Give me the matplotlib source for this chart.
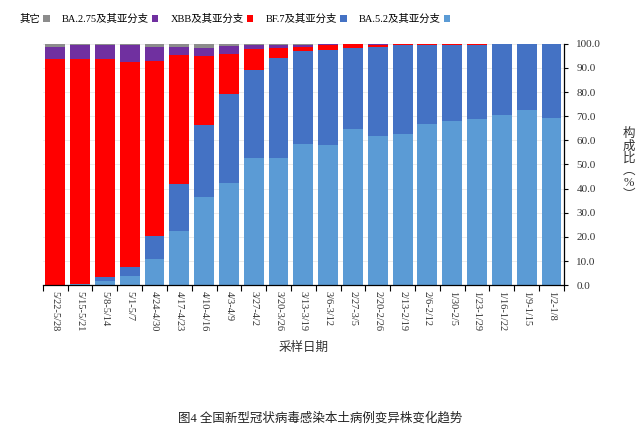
import numpy as np
import matplotlib.pyplot as plt

plt.rcParams['font.family'] = ['Liberation Serif', 'Noto Sans CJK SC', 'DejaVu Sans']

# weeks, shown newest first (the chart reads right to left)
weeks = [
    "5/22-5/28", "5/15-5/21", "5/8-5/14", "5/1-5/7", "4/24-4/30",
    "4/17-4/23", "4/10-4/16", "4/3-4/9", "3/27-4/2", "3/20-3/26",
    "3/13-3/19", "3/6-3/12", "2/27-3/5", "2/20-2/26", "2/13-2/19",
    "2/6-2/12", "1/30-2/5", "1/23-1/29", "1/16-1/22", "1/9-1/15", "1/2-1/8",
]

# composition ratio (%) per lineage
ba52 = [0.0, 0.3, 1.8, 3.7, 10.7, 22.4, 36.7, 42.5, 52.6, 52.6,
        58.6, 58.2, 64.7, 61.6, 62.6, 66.9, 68.1, 68.8, 70.6, 72.4, 69.3]
bf7 = [0.0, 0.3, 1.7, 3.9, 9.8, 19.4, 29.5, 36.5, 36.7, 41.6,
       38.4, 39.4, 33.6, 37.0, 36.7, 32.4, 31.5, 30.9, 29.2, 27.4, 30.5]
xbb = [93.5, 92.9, 90.0, 84.9, 72.5, 53.5, 28.7, 16.8, 8.7, 4.1,
       1.6, 1.8, 1.6, 1.1, 0.5, 0.5, 0.2, 0.1, 0.1, 0.1, 0.1]
ba275 = [5.3, 6.2, 6.2, 7.2, 5.6, 3.3, 3.4, 3.2, 1.7, 1.4,
         1.1, 0.4, 0.1, 0.2, 0.1, 0.1, 0.1, 0.1, 0.0, 0.0, 0.0]
other = [1.2, 0.3, 0.3, 0.3, 1.4, 1.4, 1.7, 1.0, 0.3, 0.3,
         0.3, 0.2, 0.0, 0.1, 0.1, 0.1, 0.1, 0.1, 0.1, 0.1, 0.1]

series = [
    ("BA.5.2及其亚分支", ba52, "#5B9BD5"),
    ("BF.7及其亚分支", bf7, "#4472C4"),
    ("XBB及其亚分支", xbb, "#FF0000"),
    ("BA.2.75及其亚分支", ba275, "#7030A0"),
    ("其它", other, "#8C8C8C"),
]

fig = plt.figure(figsize=(6.4, 4.38), dpi=100)
ax = fig.add_axes([0.067, 0.349, 0.814, 0.551])

x = np.arange(len(weeks))
bottom = np.zeros(len(weeks))
handles = []
for name, vals, color in series:
    vals = np.array(vals)
    h = ax.bar(x, vals, 0.8, bottom=bottom, color=color, label=name, zorder=2)
    handles.append(h)
    bottom += vals

ax.set_xlim(-0.5, len(weeks) - 0.5)
ax.set_ylim(0, 100)
ax.yaxis.tick_right()
ax.set_yticks(np.arange(0, 101, 10))
ax.set_yticklabels([f"{v:.1f}" for v in range(0, 101, 10)], fontsize=8, color="#333333")
ax.set_xticks(x)
ax.set_xticklabels(weeks, rotation=-90, fontsize=7.5, color="#333333", va="top")
ax.set_xticks(np.arange(-0.5, len(weeks), 1), minor=True)
ax.tick_params(axis="x", which="major", length=0, pad=4)
ax.tick_params(axis="x", which="minor", length=4, direction="out", width=0.8)
ax.tick_params(axis="y", length=3, direction="out", width=0.8, pad=6)
ax.grid(axis="y", color="#e4e4e4", linewidth=0.5, zorder=0)

for s in ("top", "left"):
    ax.spines[s].set_visible(False)
ax.spines["right"].set_linewidth(0.9)
ax.spines["bottom"].set_linewidth(0.9)

ax.set_xlabel("采样日期", fontsize=9, color="#333333", labelpad=8)
ax.yaxis.set_label_position("right")
ax.set_ylabel("构\n成\n比\n︵\n%\n︶", rotation=0, fontsize=9, color="#333333",
              va="center", ha="center", labelpad=20, linespacing=1.0)

# legend entries reversed so the colours sit where the mirrored reference has them
leg = fig.legend(handles[::-1], [s[0] for s in series][::-1], loc="center",
                 bbox_to_anchor=(0.367, 0.957), ncol=5, frameon=False, fontsize=7.5,
                 markerfirst=False, handlelength=0.6, handleheight=0.6,
                 handletextpad=0.3, columnspacing=1.2)

fig.text(0.5, 0.045, "图4 全国新型冠状病毒感染本土病例变异株变化趋势",
         ha="center", va="center", fontsize=9, color="#222222")

fig.savefig("out.png", dpi=100)
